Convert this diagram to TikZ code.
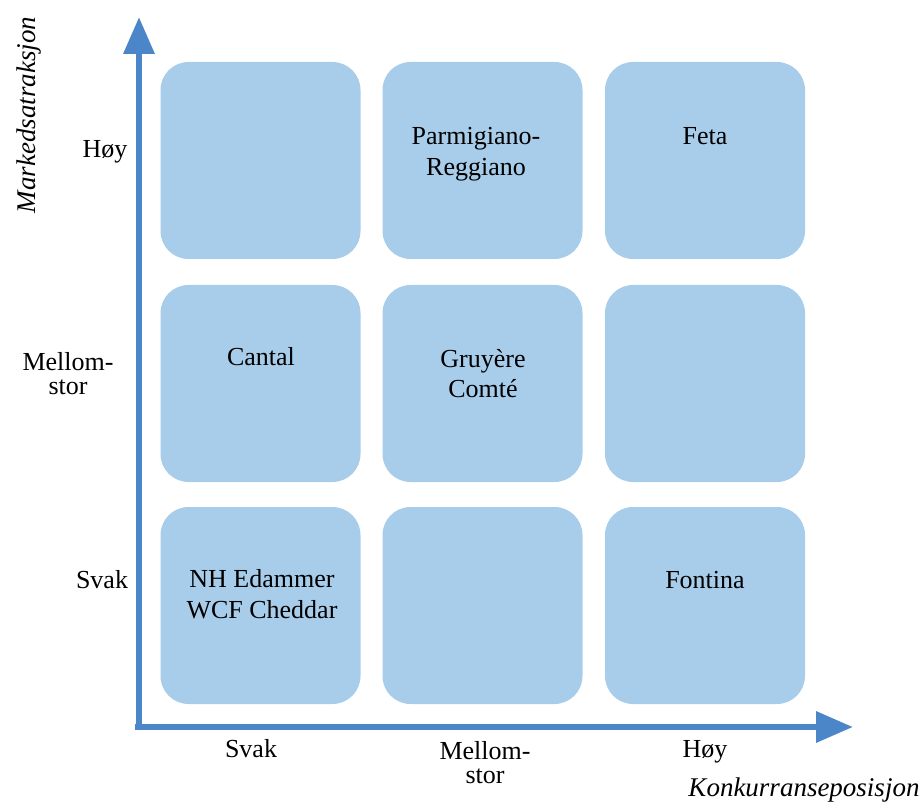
\documentclass[tikz,border=0pt]{standalone}
\usepackage{fontspec}
\setmainfont{Liberation Serif}
\usetikzlibrary{arrows.meta,calc}
\definecolor{axisblue}{HTML}{4A86C8}
\definecolor{cellblue}{HTML}{A8CDEA}
\tikzset{
  cell/.style={fill=cellblue, draw=none, rounded corners=28pt, minimum width=200pt, minimum height=197pt, inner sep=0pt},
  celltext/.style={font=\fontsize{26}{31}\selectfont, align=center, anchor=base, inner sep=0pt},
  ticklabel/.style={font=\fontsize{26}{24}\selectfont, align=center, anchor=base, inner sep=0pt},
  axistitle/.style={font=\fontsize{27}{30}\selectfont\itshape, inner sep=0pt},
  axisline/.style={draw=axisblue, line width=6.5pt, -{Triangle[length=37pt,width=30pt]}}
}
\begin{document}
\begin{tikzpicture}[x=1pt,y=-1pt]
\useasboundingbox (0,0) rectangle (922,805);
% cells
\node[cell] (c11) at (260.5,160.5) {};
\node[cell] (c12) at (482.5,160.5) {};
\node[cell] (c13) at (705,160.5) {};
\node[cell] (c21) at (260.5,383.5) {};
\node[cell] (c22) at (482.5,383.5) {};
\node[cell] (c23) at (705,383.5) {};
\node[cell] (c31) at (260.5,605.5) {};
\node[cell] (c32) at (482.5,605.5) {};
\node[cell] (c33) at (705,605.5) {};
% cell texts (base = baseline of last line)
\node[celltext] (t12) at (476,176) {Parmigiano-\\Reggiano};
\node[celltext] (t13) at (705,145) {Feta};
\node[celltext] (t21) at (261,366) {Cantal};
\node[celltext] (t22) at (483,398) {Gruyère\\Comté};
\node[celltext] (t31) at (262,618) {NH Edammer\\WCF Cheddar};
\node[celltext] (t33) at (705,588) {Fontina};
% axes
\coordinate (origin) at (139,730);
\coordinate (ytip) at (139,17);
\coordinate (xorigin) at (135,727);
\coordinate (xtip) at (853,727);
\draw[axisline] (origin) -- (ytip);
\draw[axisline] (xorigin) -- (xtip);
% tick labels y
\node[ticklabel] (yh) at (105,158) {Høy};
\node[ticklabel] (ym) at (68,394) {Mellom-\\stor};
\node[ticklabel] (ys) at (102,588) {Svak};
% tick labels x
\node[ticklabel] (xs) at (251,757) {Svak};
\node[ticklabel] (xm) at (485,783) {Mellom-\\stor};
\node[ticklabel] (xh) at (705,757) {Høy};
% axis titles
\node[axistitle, rotate=90] (ytitle) at (29,115) {Markedsatraksjon};
\node[axistitle] (xtitle) at (804,790) {Konkurranseposisjon};
\end{tikzpicture}
\end{document}
